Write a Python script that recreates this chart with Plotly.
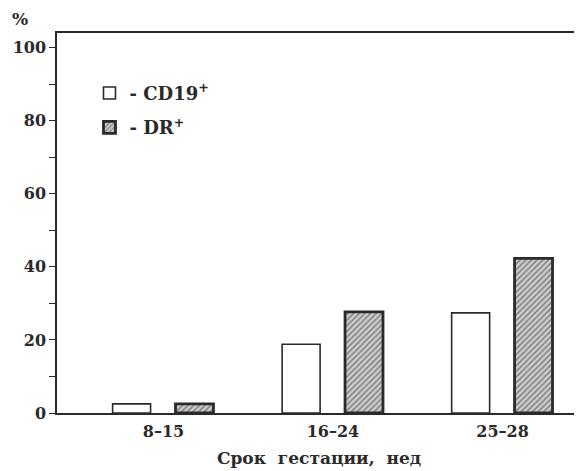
import plotly.graph_objects as go

categories = ["8–15", "16–24", "25–28"]
cd19_values = [2.5, 18.8, 27.4]
dr_values = [2.5, 27.7, 42.3]
series_names = ["- CD19<sup>+</sup>", "- DR<sup>+</sup>"]
y_tickvals = [0, 20, 40, 60, 80, 100]
x_title = "Срок  гестации,  нед"

FONT = "DejaVu Serif"
INK = "#2a2a2a"

fig = go.Figure()
fig.add_trace(go.Bar(
    x=categories, y=cd19_values, name=series_names[0],
    width=0.224, offset=-0.30,
    marker=dict(color="white", line=dict(color=INK, width=1.6)),
    legendgroup="a",
))
fig.add_trace(go.Bar(
    x=categories, y=dr_values, name=series_names[1],
    width=0.224, offset=0.071,
    marker=dict(color="#c0c0c0", line=dict(color=INK, width=2.8),
                pattern=dict(shape="/", fgcolor="#333333", bgcolor="#cfcfcf",
                             size=4, solidity=0.4)),
    legendgroup="b",
))

fig.update_layout(
    width=582, height=471,
    margin=dict(l=49, r=9, t=25, b=66, autoexpand=False),
    paper_bgcolor="white", plot_bgcolor="white",
    font=dict(family=FONT, color=INK, size=16, weight="bold"),
    barmode="overlay",
    showlegend=True,
    legend=dict(x=0.062, y=0.89, xanchor="left", yanchor="top",
                font=dict(size=18, family=FONT, color=INK, weight="bold"),
                bgcolor="rgba(0,0,0,0)", tracegroupgap=8,
                traceorder="grouped"),
    xaxis=dict(
        type="category", range=[-0.628, 2.463], automargin=False,
        showline=True, linecolor=INK, linewidth=1.5, mirror=True,
        ticks="", showgrid=False, tickfont=dict(size=16, family=FONT, weight="bold"),
        ticklabelstandoff=3,
        title=dict(text=x_title, font=dict(size=17, family=FONT, weight="bold"), standoff=12),
    ),
    yaxis=dict(
        range=[0, 104], tickvals=y_tickvals, automargin=False,
        showline=True, linecolor=INK, linewidth=1.5, mirror=True,
        ticks="outside", ticklen=6, tickwidth=1.3, tickcolor=INK,
        showgrid=False, zeroline=False, tickfont=dict(size=16, family=FONT, weight="bold"),
        minor=dict(dtick=10, tick0=10, ticks="outside", ticklen=6, tickwidth=1.3,
                   tickcolor=INK, showgrid=False),
    ),
    annotations=[dict(text="%", xref="paper", yref="paper", x=-0.07, y=1.005,
                      xanchor="center", yanchor="bottom", showarrow=False,
                      font=dict(size=17, family=FONT, color=INK, weight="bold"))],
)

fig.write_html("out.html")
